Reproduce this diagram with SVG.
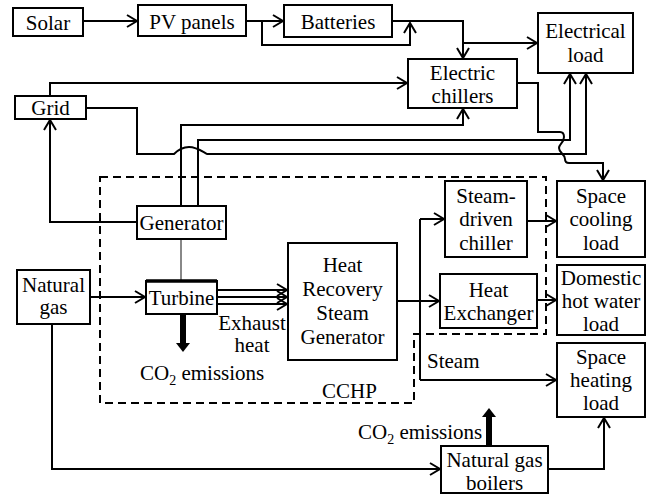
<svg xmlns="http://www.w3.org/2000/svg" width="652" height="495" viewBox="0 0 652 495">
<defs>
<style>
.box{fill:#fff;stroke:#000;stroke-width:2}
.c{fill:none;stroke:#000;stroke-width:2}
.ca{fill:none;stroke:#000;stroke-width:2;marker-end:url(#ah)}
text{font-family:'Liberation Serif','Times New Roman',serif;font-size:21px;fill:#000}
</style>
<marker id="ah" markerUnits="userSpaceOnUse" viewBox="-12 -8 14 16" markerWidth="14" markerHeight="16" refX="0" refY="0" orient="auto">
<path d="M-10,-6 L0,0 L-10,6" fill="none" stroke="#000" stroke-width="2"/>
</marker>
</defs>
<rect width="652" height="495" fill="#fff"/>

<g id="cchp-boundary">
<path d="M100,177 L546,177 L546,334 L414,334 L414,403 L100,403 Z" fill="none" stroke="#000" stroke-width="2" stroke-dasharray="8 5"/>
<text x="322" y="398">CCHP</text>
</g>

<g id="connectors">
<path class="ca" d="M83,21 L137,21"/>
<path class="ca" d="M246,21 L283,21"/>
<path class="ca" d="M262,21 L262,45 L410,45 L410,23"/>
<path class="ca" d="M392,21 L463,21 L463,58"/>
<path class="ca" d="M463,43 L537,43"/>
<path class="ca" d="M50,96 L50,83 L407,83"/>
<path class="ca" d="M86,108 L137,108 L137,154 L174,154 C178,150 182,147 189,147 C196,147 200,150 207,154 L586,154 L586,74"/>
<path class="ca" d="M181,206 L181,125 L463,125 L463,109"/>
<path class="ca" d="M198,206 L198,140 L570,140 L570,74"/>
<path class="ca" d="M517,83 L538,83 L538,132 L560,132 C563,132 564,134 564,137 C564,143 559,144 559,148 C559,153 565,154 565,159 C565,162 566,163 569,163 L603,163 L603,180"/>
<path class="ca" d="M137,222 L50,222 L50,120"/>
<line x1="181" y1="239" x2="181" y2="281" stroke="#888" stroke-width="2"/>
<path class="ca" d="M90,297 L145,297"/>
<path class="ca" d="M217,290 L287,290"/>
<path class="ca" d="M217,297 L287,297"/>
<path class="ca" d="M217,304 L287,304"/>
<path class="ca" d="M397,301 L439,301"/>
<path class="c" d="M420,219 L420,380"/>
<path class="ca" d="M420,219 L444,219"/>
<path class="ca" d="M420,380 L556,380"/>
<path class="ca" d="M527,221 L556,221"/>
<path class="ca" d="M537,300 L556,300"/>
<path class="ca" d="M52,324 L52,469 L440,469"/>
<path class="ca" d="M548,469 L604,469 L604,418"/>
<line x1="183" y1="314" x2="183" y2="344" stroke="#000" stroke-width="6"/>
<polygon points="176,343 190,343 183,352" fill="#000"/>
<line x1="489" y1="446" x2="489" y2="416" stroke="#000" stroke-width="6"/>
<polygon points="482,417 496,417 489,408" fill="#000"/>
</g>

<g text-anchor="middle">
<g id="solar"><rect class="box" x="13" y="8" width="70" height="28"/><text x="48" y="30">Solar</text></g>
<g id="pv-panels"><rect class="box" x="138" y="5" width="108" height="31"/><text x="192" y="29">PV panels</text></g>
<g id="batteries"><rect class="box" x="284" y="5" width="108" height="32"/><text x="338" y="29">Batteries</text></g>
<g id="electrical-load"><rect class="box" x="538" y="13" width="95" height="60"/><text x="585.5" y="38">Electrical</text><text x="585.5" y="62">load</text></g>
<g id="electric-chillers"><rect class="box" x="408" y="59" width="109" height="49"/><text x="462.5" y="80">Electric</text><text x="462.5" y="103">chillers</text></g>
<g id="grid"><rect class="box" x="15" y="96" width="71" height="23"/><text x="50.5" y="115">Grid</text></g>
<g id="generator"><rect class="box" x="137" y="206" width="89" height="33"/><text x="181.5" y="230">Generator</text></g>
<g id="turbine"><rect class="box" x="146" y="281" width="71" height="33"/><line x1="146" y1="281" x2="217" y2="281" stroke="#000" stroke-width="3.5"/><text x="181.5" y="305">Turbine</text></g>
<g id="natural-gas"><rect class="box" x="17" y="270" width="73" height="54"/><text x="53.5" y="292">Natural</text><text x="53.5" y="314">gas</text></g>
<g id="hrsg"><rect class="box" x="288" y="243" width="109" height="117"/><text x="342.5" y="272">Heat</text><text x="342.5" y="296">Recovery</text><text x="342.5" y="320">Steam</text><text x="342.5" y="344">Generator</text></g>
<g id="steam-driven-chiller"><rect class="box" x="445" y="181" width="82" height="76"/><text x="486" y="203">Steam-</text><text x="486" y="226">driven</text><text x="486" y="250">chiller</text></g>
<g id="heat-exchanger"><rect class="box" x="440" y="274" width="97" height="54"/><text x="488.5" y="297">Heat</text><text x="488.5" y="320">Exchanger</text></g>
<g id="space-cooling-load"><rect class="box" x="557" y="181" width="88" height="76"/><text x="601" y="203">Space</text><text x="601" y="226">cooling</text><text x="601" y="250">load</text></g>
<g id="dhw-load"><rect class="box" x="557" y="265" width="88" height="70"/><text x="601" y="285">Domestic</text><text x="601" y="308">hot water</text><text x="601" y="331">load</text></g>
<g id="space-heating-load"><rect class="box" x="557" y="343" width="88" height="74"/><text x="601" y="364">Space</text><text x="601" y="387">heating</text><text x="601" y="410">load</text></g>
<g id="natural-gas-boilers"><rect class="box" x="441" y="446" width="107" height="47"/><text x="494.5" y="467">Natural gas</text><text x="494.5" y="490">boilers</text></g>
<g id="labels">
<text x="252" y="330">Exhaust</text>
<text x="252" y="352">heat</text>
<text text-anchor="start" x="140" y="380">CO<tspan font-size="14" dy="5">2</tspan><tspan dy="-5"> emissions</tspan></text>
<text text-anchor="start" x="358" y="439">CO<tspan font-size="14" dy="5">2</tspan><tspan dy="-5"> emissions</tspan></text>
<text text-anchor="start" x="427" y="368">Steam</text>
</g>
</g>
</svg>
